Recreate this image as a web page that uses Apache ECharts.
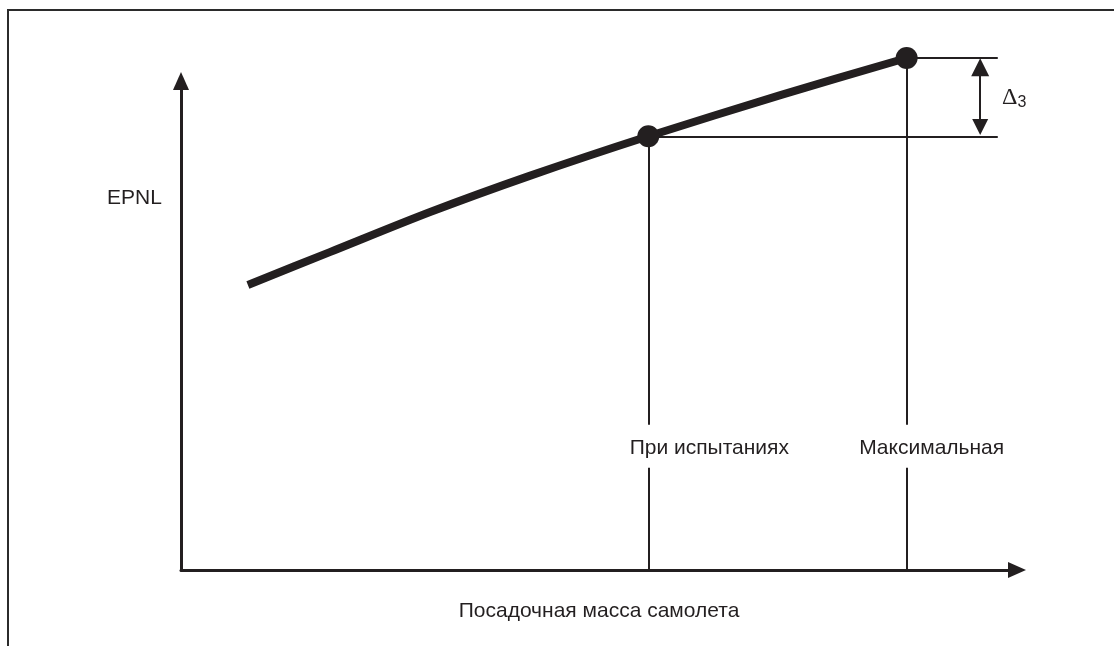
<!DOCTYPE html>
<html>
<head>
    <meta charset="utf-8">
    <title>EPNL</title>
    <script src="https://cdn.jsdelivr.net/npm/echarts@6/dist/echarts.min.js"></script>
    <style>
        html, body { margin: 0; padding: 0; background: #fff; overflow: hidden; }
        #frame {
            position: absolute; left: 7px; top: 9px; width: 1200px; height: 700px;
            border-left: 2px solid #2b2b2b; border-top: 2px solid #2b2b2b;
        }
        #main { position: absolute; left: 0; top: 0; width: 1114px; height: 646px; }
    </style>
</head>
<body>
<div id="frame"></div>
<div id="main"></div>
<script type="text/javascript">
    // кривая EPNL от посадочной массы (условные единицы 0..100)
    var curveX = [8.0, 17.8, 29.8, 41.7, 55.9, 71.7, 86.8];
    var curveY = [58.3, 65.0, 73.2, 80.6, 88.7, 97.1, 104.7];

    // отмеченные точки
    var pointNames = ['При испытаниях', 'Максимальная'];
    var pointX = [55.9, 86.8];
    var pointY = [88.7, 104.7];

    var xName = 'Посадочная масса самолета';
    var yName = 'EPNL';

    var ink = '#231f20';
    var font = 'Liberation Sans, Arial, sans-serif';

    var guideEnd = 97.7;       // до куда тянутся горизонтальные выноски
    var gapLow = 20.9, gapHigh = 29.7;  // разрыв под подписи
    var arrowX = 95.6, arrowInset = 1.9;

    var curve = curveX.map(function (x, i) { return [x, curveY[i]]; });
    var points = pointX.map(function (x, i) { return [x, pointY[i]]; });

    var guides = [];
    pointX.forEach(function (x, i) {
        guides.push({coords: [[x, 0], [x, gapLow]]});
        guides.push({coords: [[x, gapHigh], [x, pointY[i]]]});
        guides.push({coords: [[x, pointY[i]], [guideEnd, pointY[i]]]});
    });

    var labelY = (gapLow + gapHigh) / 2;
    var labelOffsets = [[61, 2], [25, 2]];
    var labels = pointX.map(function (x, i) {
        return {value: [x, labelY], name: pointNames[i], label: {offset: labelOffsets[i]}};
    });

    var chart = echarts.init(document.getElementById('main'));
    var option = {
        backgroundColor: 'transparent',
        animation: false,
        grid: {left: 181, right: 97, top: 81, bottom: 76},
        xAxis: {
            type: 'value', min: 0, max: 100,
            name: xName, nameLocation: 'middle', nameGap: 31,
            nameTextStyle: {fontFamily: font, fontSize: 21, color: ink},
            axisLine: {lineStyle: {color: ink, width: 3}, symbol: ['none', 'triangle'], symbolSize: [16, 18]},
            axisTick: {show: false}, axisLabel: {show: false}, splitLine: {show: false}
        },
        yAxis: {
            type: 'value', min: 0, max: 100,
            axisLine: {lineStyle: {color: ink, width: 3}, symbol: ['none', 'triangle'], symbolSize: [16, 18]},
            axisTick: {show: false}, axisLabel: {show: false}, splitLine: {show: false}
        },
        graphic: [
            {
                type: 'text', left: 107, top: 188,
                style: {text: yName, font: '21px ' + font, fill: ink}
            },
            {
                type: 'text', left: 1002, top: 86,
                style: {
                    text: '{d|Δ}{s|3}', fill: ink,
                    rich: {
                        d: {fontFamily: 'Liberation Serif, Times New Roman, serif', fontSize: 24, color: ink},
                        s: {fontFamily: font, fontSize: 16, color: ink, padding: [9, 0, 0, 0]}
                    }
                }
            }
        ],
        series: [
            {
                type: 'lines', coordinateSystem: 'cartesian2d', clip: false,
                lineStyle: {color: ink, width: 2, opacity: 1},
                data: guides, z: 2
            },
            {
                type: 'lines', coordinateSystem: 'cartesian2d', clip: false,
                symbol: ['triangle', 'triangle'], symbolSize: [16, 18],
                lineStyle: {color: ink, width: 2, opacity: 1},
                data: [{coords: [[arrowX, pointY[0] + arrowInset], [arrowX, pointY[1] - arrowInset]]}], z: 2
            },
            {
                type: 'line', data: curve, smooth: 0.3, clip: false,
                symbol: 'none', lineStyle: {color: ink, width: 8, cap: 'butt'}, z: 3
            },
            {
                type: 'scatter', data: points, clip: false,
                symbolSize: 22, itemStyle: {color: ink, opacity: 1}, z: 4
            },
            {
                type: 'scatter', data: labels, symbolSize: 0, clip: false,
                itemStyle: {opacity: 1},
                label: {
                    show: true, position: 'inside', formatter: '{b}',
                    fontFamily: font, fontSize: 21, color: ink, opacity: 1
                }
            }
        ]
    };
    chart.setOption(option);
    window.onresize = function () {
        chart.resize();
    };
</script>
</body>
</html>
